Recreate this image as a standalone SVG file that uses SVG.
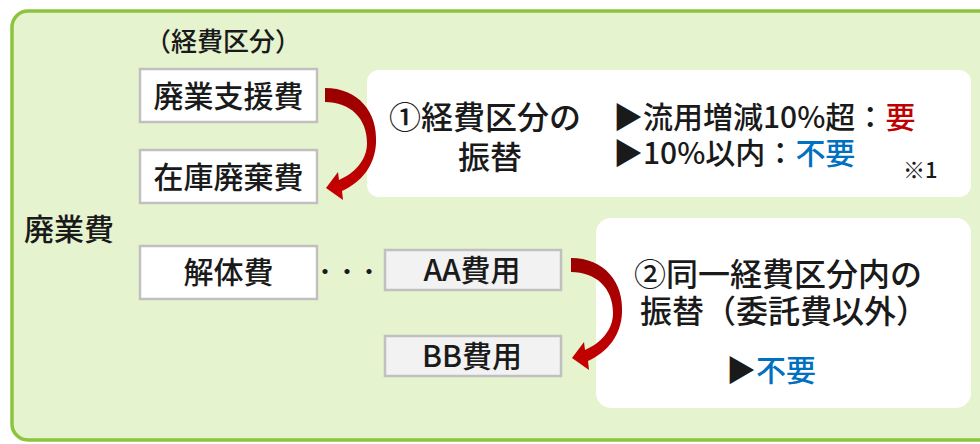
<svg xmlns="http://www.w3.org/2000/svg" width="980" height="444" viewBox="0 0 980 444">
<style>
  text { font-family: "Noto Sans CJK JP", "Noto Sans", sans-serif; fill: #1a1a1a; font-weight: 500; }
  .box { fill: #ffffff; stroke: #c0c0c0; stroke-width: 2.5; }
  .gbox { fill: #f2f2f2; stroke: #c0c0c0; stroke-width: 2.5; }
  .panel { fill: #ffffff; }
  .red { fill: #c00000; }
  .blue { fill: #0070c0; }
</style>
<defs>
  <linearGradient id="arrowGrad" x1="0" y1="0" x2="0" y2="1">
    <stop offset="0" stop-color="#9a0000"/>
    <stop offset="1" stop-color="#c80000"/>
  </linearGradient>
  <path id="curveArrow" fill="url(#arrowGrad)" d="M325,88 C358,88 378,112 376,143 C375,165 362,182 342,191 L343,200 L326,188 L338,172 L339,180 C355,173 367,160 367,143 C367,118 350,102 325,102 Z"/>
</defs>

<g id="background">
  <rect x="12" y="11" width="1000" height="429" rx="16" fill="#e5f3cf" stroke="#8cc43c" stroke-width="3.5"/>
</g>

<g id="label-category">
  <text x="223" y="51" font-size="26" text-anchor="middle">（経費区分）</text>
</g>
<g id="label-haigyouhi">
  <text x="24" y="240" font-size="30">廃業費</text>
</g>

<g id="node-shien">
  <rect class="box" x="140" y="69" width="177" height="53"/>
  <text x="228.5" y="107" font-size="30" text-anchor="middle">廃業支援費</text>
</g>
<g id="node-zaiko">
  <rect class="box" x="140" y="150" width="177" height="53"/>
  <text x="228.5" y="188" font-size="30" text-anchor="middle">在庫廃棄費</text>
</g>
<g id="node-kaitai">
  <rect class="box" x="140" y="246" width="177" height="53"/>
  <text x="228.5" y="283" font-size="30" text-anchor="middle">解体費</text>
</g>
<g id="dots">
  <text x="347" y="279" font-size="22" font-weight="bold" text-anchor="middle">・・・</text>
</g>
<g id="node-aa">
  <rect class="gbox" x="385" y="250" width="176" height="40"/>
  <text x="472" y="281" font-size="30" text-anchor="middle">AA費用</text>
</g>
<g id="node-bb">
  <rect class="gbox" x="385" y="336" width="176" height="40"/>
  <text x="472" y="367" font-size="30" text-anchor="middle">BB費用</text>
</g>

<g id="panel-1">
  <rect class="panel" x="367" y="70" width="604" height="127" rx="12"/>
  <text x="389" y="129" font-size="32">①経費区分の</text>
  <text x="490" y="169" font-size="32" text-anchor="middle">振替</text>
  <text x="613" y="128" font-size="30">▶流用増減10%超：<tspan class="red">要</tspan></text>
  <text x="613" y="164" font-size="30">▶10%以内：<tspan class="blue">不要</tspan></text>
  <text x="903" y="178" font-size="22">※1</text>
</g>

<g id="panel-2">
  <rect class="panel" x="596" y="218" width="375" height="190" rx="15"/>
  <text x="778" y="286" font-size="32" text-anchor="middle">②同一経費区分内の</text>
  <text x="784" y="323" font-size="32" text-anchor="middle">振替（委託費以外）</text>
  <text x="771" y="381" font-size="30" text-anchor="middle">▶<tspan class="blue">不要</tspan></text>
</g>

<g id="connectors">
  <use href="#curveArrow"/>
  <use href="#curveArrow" transform="translate(246,170)"/>
</g>
</svg>
